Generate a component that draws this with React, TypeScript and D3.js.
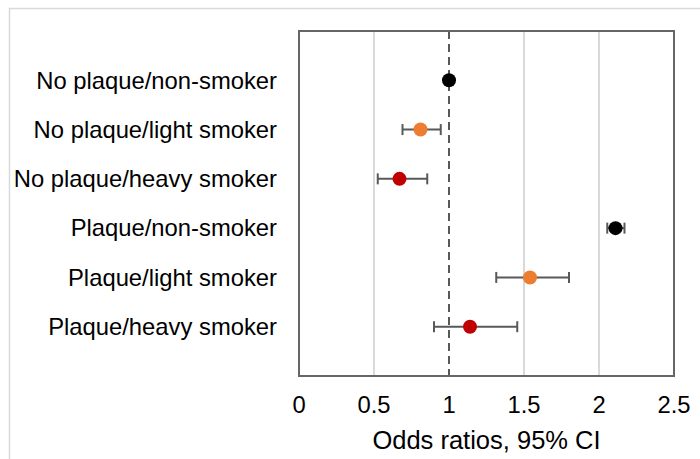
import React, { useEffect, useRef } from "react";
import * as d3 from "d3";

const groups = [
  "No plaque/non-smoker",
  "No plaque/light smoker",
  "No plaque/heavy smoker",
  "Plaque/non-smoker",
  "Plaque/light smoker",
  "Plaque/heavy smoker",
];
const oddsRatio = [1.0, 0.81, 0.67, 2.11, 1.54, 1.14];
const ciLow = [null, 0.69, 0.525, 2.055, 1.315, 0.9];
const ciHigh = [null, 0.945, 0.855, 2.17, 1.8, 1.455];
const dotColors = ["#000000", "#ED7D31", "#C00000", "#000000", "#ED7D31", "#C00000"];
const xTicks = [0, 0.5, 1, 1.5, 2, 2.5];

const W = 700;
const H = 459;
const FONT = "'Liberation Sans', Arial, sans-serif";

const App = () => {
  const ref = useRef<SVGSVGElement>(null);

  useEffect(() => {
    const svg = d3.select(ref.current);
    svg.selectAll("*").remove();

    const left = 299;
    const right = 674;
    const top = 31;
    const bottom = 376;

    const x = d3.scaleLinear().domain([0, 2.5]).range([left, right]);
    const y = d3.scalePoint<string>().domain(groups).range([top, bottom]).padding(1);

    // outer chart border
    svg
      .append("rect")
      .attr("x", 9.5)
      .attr("y", 8.5)
      .attr("width", W)
      .attr("height", H)
      .attr("fill", "none")
      .attr("stroke", "#d9d9d9")
      .attr("stroke-width", 1.5);

    // gridlines (skip 0, 1 and 2.5)
    svg
      .append("g")
      .selectAll("line")
      .data(xTicks.filter((t) => t !== 0 && t !== 1 && t !== 2.5))
      .join("line")
      .attr("x1", (d) => x(d))
      .attr("x2", (d) => x(d))
      .attr("y1", top)
      .attr("y2", bottom)
      .attr("stroke", "#d9d9d9")
      .attr("stroke-width", 2);

    // reference line at OR = 1
    svg
      .append("line")
      .attr("x1", x(1))
      .attr("x2", x(1))
      .attr("y1", top)
      .attr("y2", bottom)
      .attr("stroke", "#595959")
      .attr("stroke-width", 2)
      .attr("stroke-dasharray", "8,5");

    // plot border
    svg
      .append("rect")
      .attr("x", left)
      .attr("y", top)
      .attr("width", right - left)
      .attr("height", bottom - top)
      .attr("fill", "none")
      .attr("stroke", "#666666")
      .attr("stroke-width", 2);

    const rows = groups.map((g, i) => ({
      g,
      or: oddsRatio[i],
      lo: ciLow[i],
      hi: ciHigh[i],
      color: dotColors[i],
    }));

    // error bars
    const bars = svg
      .append("g")
      .attr("stroke", "#595959")
      .attr("stroke-width", 2)
      .selectAll("g")
      .data(rows.filter((d) => d.lo !== null))
      .join("g");
    bars
      .append("line")
      .attr("x1", (d) => x(d.lo as number))
      .attr("x2", (d) => x(d.hi as number))
      .attr("y1", (d) => y(d.g)!)
      .attr("y2", (d) => y(d.g)!);
    bars
      .append("line")
      .attr("x1", (d) => x(d.lo as number))
      .attr("x2", (d) => x(d.lo as number))
      .attr("y1", (d) => y(d.g)! - 5.5)
      .attr("y2", (d) => y(d.g)! + 5.5);
    bars
      .append("line")
      .attr("x1", (d) => x(d.hi as number))
      .attr("x2", (d) => x(d.hi as number))
      .attr("y1", (d) => y(d.g)! - 5.5)
      .attr("y2", (d) => y(d.g)! + 5.5);

    // points
    svg
      .append("g")
      .selectAll("circle")
      .data(rows)
      .join("circle")
      .attr("cx", (d) => x(d.or))
      .attr("cy", (d) => y(d.g)!)
      .attr("r", 7)
      .attr("fill", (d) => d.color);

    // category labels
    svg
      .append("g")
      .attr("font-family", FONT)
      .attr("font-size", 23.8)
      .attr("fill", "#000")
      .attr("text-anchor", "end")
      .selectAll("text")
      .data(groups)
      .join("text")
      .attr("x", 277)
      .attr("y", (d) => y(d)!)
      .attr("dy", "0.35em")
      .text((d) => d);

    // x tick labels
    svg
      .append("g")
      .attr("font-family", FONT)
      .attr("font-size", 23.8)
      .attr("fill", "#000")
      .attr("text-anchor", "middle")
      .selectAll("text")
      .data(xTicks)
      .join("text")
      .attr("x", (d) => x(d))
      .attr("y", 405)
      .attr("dy", "0.35em")
      .text((d) => String(d));

    // axis title
    svg
      .append("text")
      .attr("font-family", FONT)
      .attr("font-size", 25.5)
      .attr("fill", "#000")
      .attr("text-anchor", "middle")
      .attr("x", (left + right) / 2)
      .attr("y", 440)
      .attr("dy", "0.35em")
      .text("Odds ratios, 95% CI");
  }, []);

  return (
    <div style={{ position: "absolute", left: 0, top: 0 }}>
      <svg ref={ref} width={W} height={H} style={{ display: "block" }} />
    </div>
  );
};

export default App;
